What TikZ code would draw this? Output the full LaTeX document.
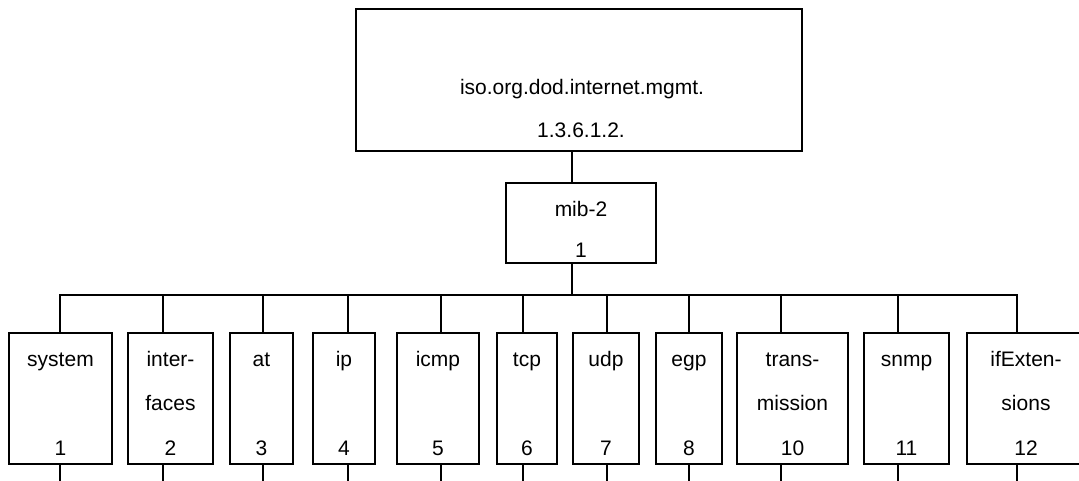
\documentclass[tikz,border=0pt]{standalone}
\usepackage{fontspec}
\setmainfont{Liberation Sans}
\begin{document}
\begin{tikzpicture}[x=1pt,y=-1pt,
  box/.style={draw, line width=1.8pt, rectangle, inner sep=0pt, minimum height=131pt},
  wire/.style={line width=1.8pt},
  lbl/.style={anchor=base, inner sep=0pt, font=\fontsize{21}{25}\selectfont}]
\useasboundingbox (0,0) rectangle (1079,481);
\clip (0,0) rectangle (1079,481);
% top boxes
\node[box, minimum width=446pt, minimum height=142pt] (root) at (579,80) {};
\node[lbl] (roottxt) at (582,95) {iso.org.dod.internet.mgmt.};
\node[lbl] (rootnum) at (581,138) {1.3.6.1.2.};
\node[box, minimum width=150pt, minimum height=80pt] (mib) at (581,223) {};
\node[lbl] (mibtxt) at (581,217) {mib-2};
\node[lbl] (mibnum) at (581,258) {1};
\coordinate (rootc) at (572,0);
\coordinate (bus) at (572,295);
\draw[wire] (root.south -| rootc) -- (mib.north -| rootc);
\draw[wire] (mib.south -| rootc) -- (bus);
% children
\foreach \n/\cx/\w/\sx/\la/\lb/\num in {
  sys/60.5/103/60/system/{}/1,
  ifc/170.5/85/163/inter-/faces/2,
  at/261.5/63/263/at/{}/3,
  ip/344/62/348/ip/{}/4,
  icmp/438/82/441/icmp/{}/5,
  tcp/527/60/523/tcp/{}/6,
  udp/606/66/607/udp/{}/7,
  egp/689/66/689/egp/{}/8,
  trans/792.5/111/781/trans-/mission/10,
  snmp/906.5/85/898/snmp/{}/11,
  ifx/1026/118/1017/ifExten-/sions/12}{
  \node[box, minimum width=\w pt] (\n) at (\cx,398.5) {};
  \node[lbl] (\n a) at (\cx,366) {\la};
  \node[lbl] (\n b) at (\cx,410) {\lb};
  \node[lbl] (\n n) at (\cx,455) {\num};
  \coordinate (\n top) at (\sx,295);
  \coordinate (\n end) at (\sx,490);
  \draw[wire] (\n top) -- (\n.north -| \n top);
  \draw[wire] (\n.south -| \n top) -- (\n end);
}
\draw[wire, line cap=rect] (systop) -- (ifxtop);
\end{tikzpicture}
\end{document}
